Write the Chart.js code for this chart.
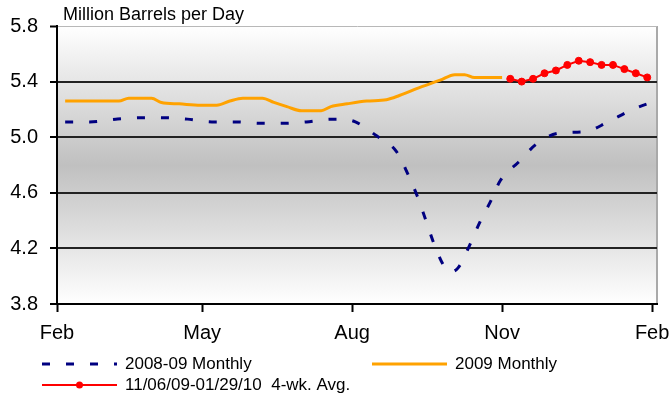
<!DOCTYPE html>
<html>
<head>
<meta charset="utf-8">
<script src="https://cdn.jsdelivr.net/npm/chart.js@4.4.1/dist/chart.umd.min.js"></script>
<style>
    html, body { margin: 0; padding: 0; background: #fff; }
    #wrap { width: 670px; height: 400px; }
</style>
</head>
<body>
<div id="wrap"><canvas id="supplyChart" width="670" height="400"></canvas></div>
<script>
// x values are days counted from Feb 1, 2009
const xTickDays = [0, 89, 181, 273, 365];
const xTickLabels = ['Feb', 'May', 'Aug', 'Nov', 'Feb'];
const yTickValues = [3.8, 4.2, 4.6, 5.0, 5.4, 5.8];

const seriesLabels = ['2008-09 Monthly', '2009 Monthly', '11/06/09-01/29/10  4-wk. Avg.'];
const chartTitle = 'Million Barrels per Day';

// 2008-09 Monthly (blue dashed)
const monthly0809Days = [5, 20, 36, 51, 66, 80, 95, 110, 124, 139, 153, 168, 174, 183, 196, 208,
    215, 221, 226, 231, 237, 241, 246, 253, 259, 266, 272, 283, 294, 308, 324, 338, 353, 367];
const monthly0809Values = [5.11, 5.11, 5.13, 5.14, 5.14, 5.13, 5.11, 5.11, 5.10, 5.10, 5.11, 5.13, 5.13, 5.11, 5.01, 4.90,
    4.74, 4.575, 4.41, 4.24, 4.08, 4.03, 4.06, 4.22, 4.38, 4.54, 4.69, 4.82, 4.95, 5.03, 5.04, 5.11, 5.20, 5.26];

// 2009 Monthly (orange)
const monthly2009Days = [5, 20, 38, 44, 58, 64, 75, 88, 98, 106, 114, 126, 133, 141, 150, 162,
    168, 178, 190, 202, 210, 223, 235, 244, 250, 256, 273];
const monthly2009Values = [5.26, 5.26, 5.26, 5.28, 5.28, 5.25, 5.24, 5.23, 5.23, 5.26, 5.28, 5.28, 5.25, 5.22, 5.19, 5.19,
    5.22, 5.24, 5.26, 5.27, 5.30, 5.36, 5.41, 5.45, 5.45, 5.43, 5.43];

// 4-week average, weekly from 11/06/09 to 01/29/10 (red)
const avg4wkDays = [278, 285, 292, 299, 306, 313, 320, 327, 334, 341, 348, 355, 362];
const avg4wkValues = [5.42, 5.40, 5.42, 5.46, 5.48, 5.52, 5.55, 5.54, 5.52, 5.52, 5.49, 5.46, 5.43];

const fontFamily = '"Liberation Sans", Arial, sans-serif';

function toPoints(days, values) {
    return days.map((d, i) => ({ x: d, y: values[i] }));
}

// Gray gradient behind the plot and the light right-hand frame
const plotBackground = {
    id: 'plotBackground',
    beforeDraw(chart) {
        const { ctx, chartArea: a } = chart;
        const g = ctx.createLinearGradient(0, a.top, 0, a.bottom);
        g.addColorStop(0, '#ffffff');
        g.addColorStop(0.5, '#c0c0c0');
        g.addColorStop(1, '#ffffff');
        ctx.save();
        ctx.fillStyle = g;
        ctx.fillRect(a.left, a.top, a.right - a.left, a.bottom - a.top);
        ctx.strokeStyle = '#a9a9a9';
        ctx.lineWidth = 2;
        ctx.beginPath();
        ctx.moveTo(a.right, a.top);
        ctx.lineTo(a.right, a.bottom);
        ctx.stroke();
        ctx.restore();
    }
};

// Unit label above the plot and the two-column legend below it
const chartText = {
    id: 'chartText',
    afterDraw(chart, args, opts) {
        const ctx = chart.ctx;
        ctx.save();
        ctx.fillStyle = '#000';
        ctx.font = opts.titleFont;
        ctx.textBaseline = 'alphabetic';
        ctx.fillText(chartTitle, opts.titleX, opts.titleY);

        ctx.font = opts.legendFont;
        ctx.textBaseline = 'middle';
        chart.data.datasets.forEach((ds, i) => {
            const p = opts.positions[i];
            ctx.strokeStyle = ds.borderColor;
            ctx.lineWidth = ds.borderWidth;
            ctx.setLineDash(ds.borderDash || []);
            ctx.beginPath();
            ctx.moveTo(p.x, p.y);
            ctx.lineTo(p.x + opts.lineLength, p.y);
            ctx.stroke();
            ctx.setLineDash([]);
            if (ds.pointRadius > 0) {
                ctx.fillStyle = ds.borderColor;
                ctx.beginPath();
                ctx.arc(p.x + opts.lineLength / 2, p.y, ds.pointRadius, 0, Math.PI * 2);
                ctx.fill();
            }
            ctx.fillStyle = '#000';
            ctx.fillText(ds.label, p.x + opts.lineLength + opts.gap, p.y);
        });
        ctx.restore();
    }
};

window.addEventListener('load', function() {
    new Chart(document.getElementById('supplyChart'), {
        type: 'line',
        data: {
            datasets: [{
                label: seriesLabels[0],
                data: toPoints(monthly0809Days, monthly0809Values),
                borderColor: '#000080',
                borderWidth: 3,
                borderDash: [8, 16],
                cubicInterpolationMode: 'monotone',
                pointRadius: 0
            }, {
                label: seriesLabels[1],
                data: toPoints(monthly2009Days, monthly2009Values),
                borderColor: '#ffa200',
                borderWidth: 3,
                cubicInterpolationMode: 'monotone',
                pointRadius: 0
            }, {
                label: seriesLabels[2],
                data: toPoints(avg4wkDays, avg4wkValues),
                borderColor: '#ff0000',
                backgroundColor: '#ff0000',
                borderWidth: 2,
                tension: 0,
                pointRadius: 3.5,
                pointBorderWidth: 1,
                pointBackgroundColor: '#ff0000'
            }]
        },
        options: {
            responsive: false,
            animation: false,
            layout: {
                padding: { top: 26, right: 13, left: 0, bottom: 0 }
            },
            plugins: {
                legend: { display: false },
                tooltip: { enabled: false },
                chartText: {
                    titleFont: '18px ' + fontFamily,
                    titleX: 63,
                    titleY: 20,
                    legendFont: '17px ' + fontFamily,
                    lineLength: 75,
                    gap: 8,
                    positions: [{ x: 42, y: 364 }, { x: 372, y: 364 }, { x: 42, y: 385 }]
                }
            },
            scales: {
                x: {
                    type: 'linear',
                    min: 0,
                    max: 368,
                    afterBuildTicks: scale => {
                        scale.ticks = xTickDays.map(v => ({ value: v }));
                    },
                    afterFit: scale => {
                        scale.height = 96;
                        scale.paddingLeft = 0;
                        scale.paddingRight = 0;
                    },
                    ticks: {
                        autoSkip: false,
                        maxRotation: 0,
                        padding: 9,
                        color: '#000',
                        font: { family: fontFamily, size: 20 },
                        callback: (v, i) => xTickLabels[i]
                    },
                    grid: {
                        drawOnChartArea: false,
                        tickLength: 8,
                        tickColor: '#000',
                        tickWidth: 2
                    },
                    border: { color: '#000', width: 2 }
                },
                y: {
                    min: 3.8,
                    max: 5.8,
                    afterBuildTicks: scale => {
                        scale.ticks = yTickValues.map(v => ({ value: v }));
                    },
                    afterFit: scale => {
                        scale.width = 57;
                        scale.paddingTop = 0;
                        scale.paddingBottom = 0;
                    },
                    ticks: {
                        padding: 12,
                        color: '#000',
                        font: { family: fontFamily, size: 20 },
                        callback: v => v.toFixed(1)
                    },
                    grid: {
                        color: ctx => (ctx.tick && ctx.tick.value === 5.8) ? '#b8b8b8' : '#222',
                        lineWidth: ctx => (ctx.tick && ctx.tick.value === 5.8) ? 1 : 2,
                        tickColor: '#000',
                        tickLength: 7,
                        tickWidth: 2
                    },
                    border: { color: '#000', width: 2 }
                }
            }
        },
        plugins: [plotBackground, chartText]
    });
});
</script>
</body>
</html>
